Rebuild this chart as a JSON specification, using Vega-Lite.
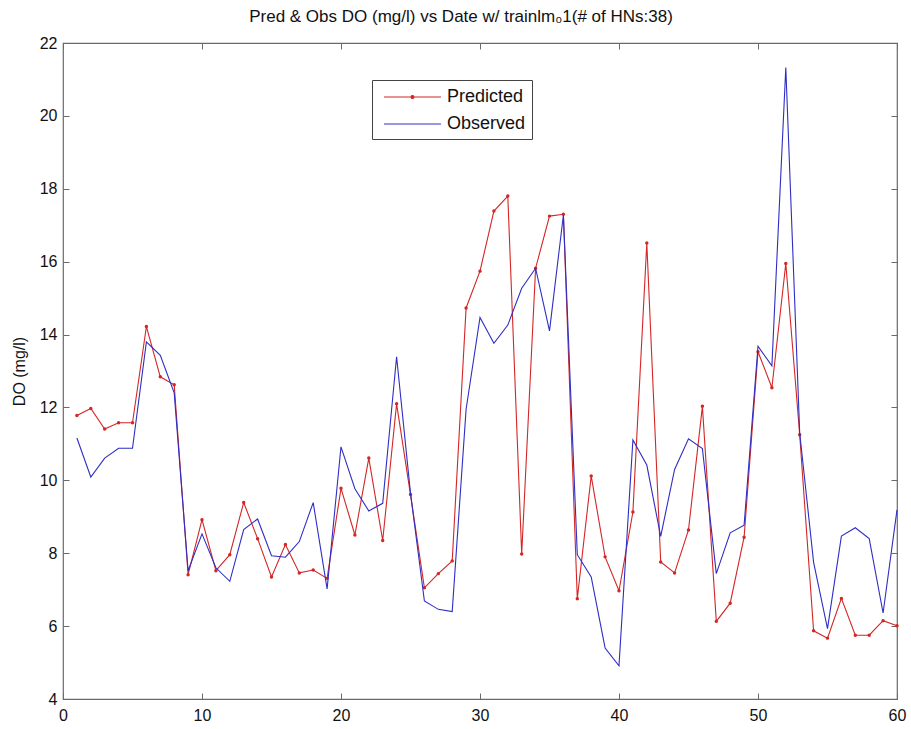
{
  "$schema": "https://vega.github.io/schema/vega-lite/v6.json",
  "width": 834,
  "height": 656,
  "autosize": {"type": "none"},
  "padding": {"left": 63, "top": 43, "right": 14, "bottom": 30},
  "background": "white",
  "title": {
    "text": "Pred & Obs DO (mg/l) vs Date w/ trainlm₀1(# of HNs:38)",
    "anchor": "middle",
    "baseline": "alphabetic",
    "offset": 20,
    "dy": 24,
    "dx": -19,
    "fontSize": 17,
    "fontWeight": "normal",
    "font": "Liberation Sans",
    "color": "#111"
  },
  "config": {
    "font": "Liberation Sans",
    "view": {"stroke": "#6a6a6a", "strokeWidth": 1.2},
    "axis": {
      "grid": false,
      "domain": false,
      "tickColor": "#6a6a6a",
      "tickSize": -6,
      "labelFontSize": 16,
      "labelColor": "#111",
      "labelFlush": false,
      "titleFontSize": 16,
      "titleFontWeight": "normal",
      "titleColor": "#111"
    }
  },
  "data": {
    "values": [
      {"x": 1, "series": "Predicted", "value": 11.78}, {"x": 2, "series": "Predicted", "value": 11.97},
      {"x": 3, "series": "Predicted", "value": 11.41}, {"x": 4, "series": "Predicted", "value": 11.58},
      {"x": 5, "series": "Predicted", "value": 11.58}, {"x": 6, "series": "Predicted", "value": 14.22},
      {"x": 7, "series": "Predicted", "value": 12.84}, {"x": 8, "series": "Predicted", "value": 12.62},
      {"x": 9, "series": "Predicted", "value": 7.41}, {"x": 10, "series": "Predicted", "value": 8.92},
      {"x": 11, "series": "Predicted", "value": 7.52}, {"x": 12, "series": "Predicted", "value": 7.96},
      {"x": 13, "series": "Predicted", "value": 9.39}, {"x": 14, "series": "Predicted", "value": 8.40},
      {"x": 15, "series": "Predicted", "value": 7.35}, {"x": 16, "series": "Predicted", "value": 8.24},
      {"x": 17, "series": "Predicted", "value": 7.46}, {"x": 18, "series": "Predicted", "value": 7.54},
      {"x": 19, "series": "Predicted", "value": 7.31}, {"x": 20, "series": "Predicted", "value": 9.78},
      {"x": 21, "series": "Predicted", "value": 8.50}, {"x": 22, "series": "Predicted", "value": 10.61},
      {"x": 23, "series": "Predicted", "value": 8.35}, {"x": 24, "series": "Predicted", "value": 12.10},
      {"x": 25, "series": "Predicted", "value": 9.61}, {"x": 26, "series": "Predicted", "value": 7.05},
      {"x": 27, "series": "Predicted", "value": 7.44}, {"x": 28, "series": "Predicted", "value": 7.79},
      {"x": 29, "series": "Predicted", "value": 14.73}, {"x": 30, "series": "Predicted", "value": 15.74},
      {"x": 31, "series": "Predicted", "value": 17.39}, {"x": 32, "series": "Predicted", "value": 17.80},
      {"x": 33, "series": "Predicted", "value": 7.98}, {"x": 34, "series": "Predicted", "value": 15.82},
      {"x": 35, "series": "Predicted", "value": 17.25}, {"x": 36, "series": "Predicted", "value": 17.30},
      {"x": 37, "series": "Predicted", "value": 6.75}, {"x": 38, "series": "Predicted", "value": 10.12},
      {"x": 39, "series": "Predicted", "value": 7.90}, {"x": 40, "series": "Predicted", "value": 6.97},
      {"x": 41, "series": "Predicted", "value": 9.13}, {"x": 42, "series": "Predicted", "value": 16.51},
      {"x": 43, "series": "Predicted", "value": 7.76}, {"x": 44, "series": "Predicted", "value": 7.46},
      {"x": 45, "series": "Predicted", "value": 8.64}, {"x": 46, "series": "Predicted", "value": 12.03},
      {"x": 47, "series": "Predicted", "value": 6.13}, {"x": 48, "series": "Predicted", "value": 6.63},
      {"x": 49, "series": "Predicted", "value": 8.44}, {"x": 50, "series": "Predicted", "value": 13.53},
      {"x": 51, "series": "Predicted", "value": 12.54}, {"x": 52, "series": "Predicted", "value": 15.95},
      {"x": 53, "series": "Predicted", "value": 11.25}, {"x": 54, "series": "Predicted", "value": 5.87},
      {"x": 55, "series": "Predicted", "value": 5.67}, {"x": 56, "series": "Predicted", "value": 6.76},
      {"x": 57, "series": "Predicted", "value": 5.75}, {"x": 58, "series": "Predicted", "value": 5.75},
      {"x": 59, "series": "Predicted", "value": 6.15}, {"x": 60, "series": "Predicted", "value": 6.01},
      {"x": 1, "series": "Observed", "value": 11.16}, {"x": 2, "series": "Observed", "value": 10.09},
      {"x": 3, "series": "Observed", "value": 10.61}, {"x": 4, "series": "Observed", "value": 10.88},
      {"x": 5, "series": "Observed", "value": 10.88}, {"x": 6, "series": "Observed", "value": 13.80},
      {"x": 7, "series": "Observed", "value": 13.43}, {"x": 8, "series": "Observed", "value": 12.40},
      {"x": 9, "series": "Observed", "value": 7.52}, {"x": 10, "series": "Observed", "value": 8.53},
      {"x": 11, "series": "Observed", "value": 7.60}, {"x": 12, "series": "Observed", "value": 7.23},
      {"x": 13, "series": "Observed", "value": 8.65}, {"x": 14, "series": "Observed", "value": 8.94},
      {"x": 15, "series": "Observed", "value": 7.93}, {"x": 16, "series": "Observed", "value": 7.89},
      {"x": 17, "series": "Observed", "value": 8.32}, {"x": 18, "series": "Observed", "value": 9.39},
      {"x": 19, "series": "Observed", "value": 7.02}, {"x": 20, "series": "Observed", "value": 10.92},
      {"x": 21, "series": "Observed", "value": 9.77}, {"x": 22, "series": "Observed", "value": 9.16},
      {"x": 23, "series": "Observed", "value": 9.37}, {"x": 24, "series": "Observed", "value": 13.39},
      {"x": 25, "series": "Observed", "value": 9.65}, {"x": 26, "series": "Observed", "value": 6.69},
      {"x": 27, "series": "Observed", "value": 6.46}, {"x": 28, "series": "Observed", "value": 6.40},
      {"x": 29, "series": "Observed", "value": 11.95}, {"x": 30, "series": "Observed", "value": 14.47},
      {"x": 31, "series": "Observed", "value": 13.76}, {"x": 32, "series": "Observed", "value": 14.26},
      {"x": 33, "series": "Observed", "value": 15.27}, {"x": 34, "series": "Observed", "value": 15.82},
      {"x": 35, "series": "Observed", "value": 14.10}, {"x": 36, "series": "Observed", "value": 17.28},
      {"x": 37, "series": "Observed", "value": 7.96}, {"x": 38, "series": "Observed", "value": 7.35},
      {"x": 39, "series": "Observed", "value": 5.40}, {"x": 40, "series": "Observed", "value": 4.91},
      {"x": 41, "series": "Observed", "value": 11.11}, {"x": 42, "series": "Observed", "value": 10.42},
      {"x": 43, "series": "Observed", "value": 8.46}, {"x": 44, "series": "Observed", "value": 10.30},
      {"x": 45, "series": "Observed", "value": 11.14}, {"x": 46, "series": "Observed", "value": 10.87},
      {"x": 47, "series": "Observed", "value": 7.44}, {"x": 48, "series": "Observed", "value": 8.56},
      {"x": 49, "series": "Observed", "value": 8.77}, {"x": 50, "series": "Observed", "value": 13.68},
      {"x": 51, "series": "Observed", "value": 13.14}, {"x": 52, "series": "Observed", "value": 21.33},
      {"x": 53, "series": "Observed", "value": 11.30}, {"x": 54, "series": "Observed", "value": 7.75},
      {"x": 55, "series": "Observed", "value": 5.93}, {"x": 56, "series": "Observed", "value": 8.47},
      {"x": 57, "series": "Observed", "value": 8.70}, {"x": 58, "series": "Observed", "value": 8.40},
      {"x": 59, "series": "Observed", "value": 6.36}, {"x": 60, "series": "Observed", "value": 9.19}
    ]
  },
  "resolve": {"axis": {"x": "independent", "y": "independent"}},
  "layer": [
    {
      "transform": [{"filter": "datum.series === 'Predicted'"}],
      "mark": {"type": "line", "strokeWidth": 1.1},
      "encoding": {
        "x": {
          "field": "x", "type": "quantitative",
          "scale": {"domain": [0, 60], "nice": false, "zero": false},
          "axis": {"orient": "bottom", "values": [0, 10, 20, 30, 40, 50, 60], "title": null, "labelPadding": 14}
        },
        "y": {
          "field": "value", "type": "quantitative",
          "scale": {"domain": [4, 22], "nice": false, "zero": false},
          "axis": {"orient": "left", "values": [4, 6, 8, 10, 12, 14, 16, 18, 20, 22], "title": "DO (mg/l)", "labelPadding": 12, "titlePadding": 12}
        },
        "color": {
          "field": "series", "type": "nominal",
          "scale": {"domain": ["Predicted", "Observed"], "range": ["#d42626", "#2e2ec4"]},
          "legend": {
            "title": null,
            "orient": "none",
            "legendX": 309,
            "legendY": 37,
            "symbolSize": 400,
            "symbolStrokeWidth": 1.1,
            "symbolOffset": 0,
            "labelFontSize": 18,
            "labelColor": "#111",
            "labelOffset": 47,
            "strokeColor": "#444",
            "fillColor": "white",
            "padding": 6,
            "rowPadding": 7,
            "encode": {
              "symbols": {
                "update": {
                  "shape": {"signal": "datum.value === 'Predicted' ? 'M-0.5,0H5.2M2.2,0a0.15,0.15 0 1,0 0.3,0a0.15,0.15 0 1,0 -0.3,0' : 'M-0.5,0H5.2'"},
                  "fill": {"value": "transparent"}
                }
              }
            }
          }
        }
      }
    },
    {
      "transform": [{"filter": "datum.series === 'Predicted'"}],
      "mark": {"type": "point", "filled": true, "size": 12, "opacity": 1},
      "encoding": {
        "x": {
          "field": "x", "type": "quantitative",
          "scale": {"domain": [0, 60], "nice": false, "zero": false},
          "axis": {"orient": "top", "values": [0, 10, 20, 30, 40, 50, 60], "labels": false, "title": null}
        },
        "y": {
          "field": "value", "type": "quantitative",
          "scale": {"domain": [4, 22], "nice": false, "zero": false},
          "axis": {"orient": "right", "values": [4, 6, 8, 10, 12, 14, 16, 18, 20, 22], "labels": false, "title": null}
        },
        "color": {"field": "series", "type": "nominal"}
      }
    },
    {
      "transform": [{"filter": "datum.series === 'Observed'"}],
      "mark": {"type": "line", "strokeWidth": 1.1},
      "encoding": {
        "x": {"field": "x", "type": "quantitative", "axis": null},
        "y": {"field": "value", "type": "quantitative", "axis": null},
        "color": {"field": "series", "type": "nominal"}
      }
    }
  ]
}
